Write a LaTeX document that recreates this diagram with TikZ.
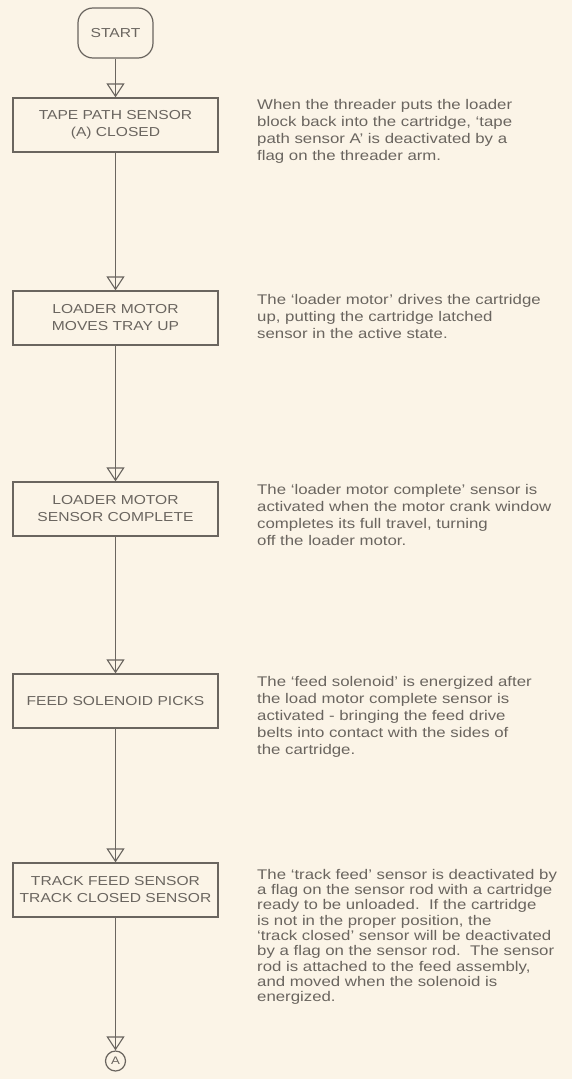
\documentclass[tikz,border=0pt]{standalone}
\usepackage{fontspec}
\setmainfont[FakeStretch=1.2]{Liberation Sans}
\usepackage{xcolor}
\definecolor{sheet-cream}{HTML}{FBF4E7}
\definecolor{sheet-ink}{HTML}{6A655F}
\usepackage{tikz}
\usetikzlibrary{arrows.meta}

\tikzset{
    stepbox/.style={draw=sheet-ink, line width=1.2pt, minimum width=205pt, minimum height=54pt,
                    inner sep=2pt, align=center, text=sheet-ink, font=\fontsize{13}{17}\selectfont},
    terminal/.style={stepbox, rounded corners=15pt, minimum width=75pt, minimum height=50pt},
    remark/.style={anchor=north west, inner sep=0pt, align=left, text=sheet-ink,
                   font=\fontsize{14}{17}\selectfont},
    offpage/.style={circle, draw=sheet-ink, line width=1.2pt, minimum size=20pt, inner sep=0pt,
                    text=sheet-ink, font=\fontsize{11}{11}\selectfont},
    flow/.style={draw=sheet-ink, line width=1.1pt,
                 postaction={draw=sheet-ink, line width=1.1pt, -{Triangle[open, length=14pt, width=18pt]}}}
}

\begin{document}
\begin{tikzpicture}[x=1pt, y=-1pt]

    % Background
    \useasboundingbox (0, 0) rectangle (572, 1079);
    \fill[sheet-cream] (0, 0) rectangle (572, 1079);

    % Steps
    \node[terminal] (start) at (115.5, 33) {START};
    \node[stepbox] (tapesensor) at (115.5, 125) {TAPE PATH SENSOR\\(A) CLOSED};
    \node[stepbox] (loadermotor) at (115.5, 318) {LOADER MOTOR\\MOVES TRAY UP};
    \node[stepbox] (motorcomplete) at (115.5, 509) {LOADER MOTOR\\SENSOR COMPLETE};
    \node[stepbox] (feedsolenoid) at (115.5, 701) {FEED SOLENOID PICKS};
    \node[stepbox] (tracksensor) at (115.5, 890) {TRACK FEED SENSOR\\TRACK CLOSED SENSOR};
    \node[offpage] (connA) at (115.5, 1061) {A};

    % Flow
    \foreach \from/\to in {start/tapesensor, tapesensor/loadermotor, loadermotor/motorcomplete,
                           motorcomplete/feedsolenoid, feedsolenoid/tracksensor, tracksensor/connA}
        \draw[flow] (\from) -- (\to);

    % Remarks
    \node[remark] (tapenote) at (257, 99) {When the threader puts the loader\\
        block back into the cartridge, `tape\\
        path sensor A' is deactivated by a\\
        flag on the threader arm.};
    \node[remark] (loadernote) at (257, 294) {The `loader motor' drives the cartridge\\
        up, putting the cartridge latched\\
        sensor in the active state.};
    \node[remark] (completenote) at (257, 484) {The `loader motor complete' sensor is\\
        activated when the motor crank window\\
        completes its full travel, turning\\
        off the loader motor.};
    \node[remark] (solenoidnote) at (257, 676) {The `feed solenoid' is energized after\\
        the load motor complete sensor is\\
        activated - bringing the feed drive\\
        belts into contact with the sides of\\
        the cartridge.};
    \node[remark, font=\fontsize{14}{15.3}\selectfont] (tracknote) at (257, 869) {The `track feed' sensor is deactivated by\\
        a flag on the sensor rod with a cartridge\\
        ready to be unloaded.\ \ If the cartridge\\
        is not in the proper position, the\\
        `track closed' sensor will be deactivated\\
        by a flag on the sensor rod.\ \ The sensor\\
        rod is attached to the feed assembly,\\
        and moved when the solenoid is\\
        energized.};

\end{tikzpicture}
\end{document}
